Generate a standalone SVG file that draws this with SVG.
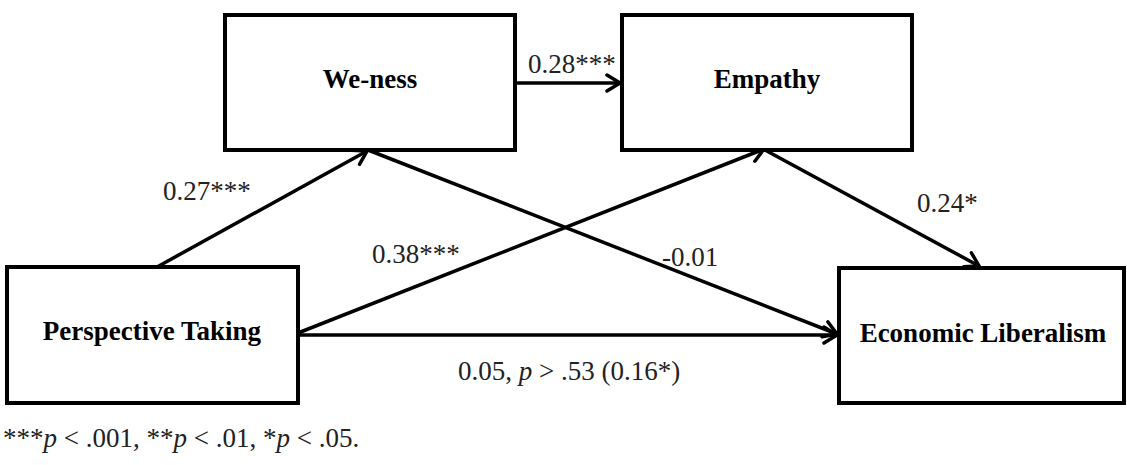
<svg xmlns="http://www.w3.org/2000/svg" width="1127" height="465" viewBox="0 0 1127 465">
<style>
.box{fill:#fff;stroke:#000;stroke-width:4}
.nl{font-family:"Liberation Serif",serif;font-weight:bold;font-size:27px;fill:#000;text-anchor:middle}
.lb{font-family:"Liberation Serif",serif;font-size:27px;fill:#222}
.c{stroke:#000;stroke-width:3.5;fill:none;marker-end:url(#ah)}
</style>
<defs>
<marker id="ah" markerUnits="userSpaceOnUse" markerWidth="20" markerHeight="22" refX="15" refY="9" orient="auto" viewBox="0 0 20 18">
<path d="M2,1 L15,9 L2,17" fill="none" stroke="#000" stroke-width="3.5" stroke-linecap="round"/>
</marker>
</defs>
<rect width="1127" height="465" fill="#fff"/>
<g id="connectors">
<line class="c" x1="515" y1="83" x2="620" y2="83"/>
<line class="c" x1="157" y1="267" x2="367" y2="151"/>
<line class="c" x1="368" y1="150" x2="837" y2="334"/>
<line class="c" x1="298" y1="333" x2="764" y2="149"/>
<line class="c" x1="765" y1="150" x2="979" y2="266"/>
<line class="c" x1="298" y1="335" x2="837" y2="335"/>
</g>
<g id="we-ness">
<rect class="box" x="225" y="15" width="290" height="135"/>
<text class="nl" x="370" y="88">We-ness</text>
</g>
<g id="empathy">
<rect class="box" x="622" y="15" width="290" height="135"/>
<text class="nl" x="767" y="88">Empathy</text>
</g>
<g id="perspective-taking">
<rect class="box" x="7" y="267" width="291" height="136"/>
<text class="nl" x="152" y="340">Perspective Taking</text>
</g>
<g id="economic-liberalism">
<rect class="box" x="839" y="268" width="285" height="135"/>
<text class="nl" x="983" y="342">Economic Liberalism</text>
</g>
<g id="labels">
<text class="lb" x="528" y="73">0.28***</text>
<text class="lb" x="163" y="200">0.27***</text>
<text class="lb" x="372" y="263">0.38***</text>
<text class="lb" x="662" y="266">-0.01</text>
<text class="lb" x="917" y="212">0.24*</text>
<text class="lb" x="458" y="380">0.05, <tspan font-style="italic">p</tspan> &gt; .53 (0.16*)</text>
<text class="lb" x="3" y="447">***<tspan font-style="italic">p</tspan> &lt; .001, **<tspan font-style="italic">p</tspan> &lt; .01, *<tspan font-style="italic">p</tspan> &lt; .05.</text>
</g>
</svg>
